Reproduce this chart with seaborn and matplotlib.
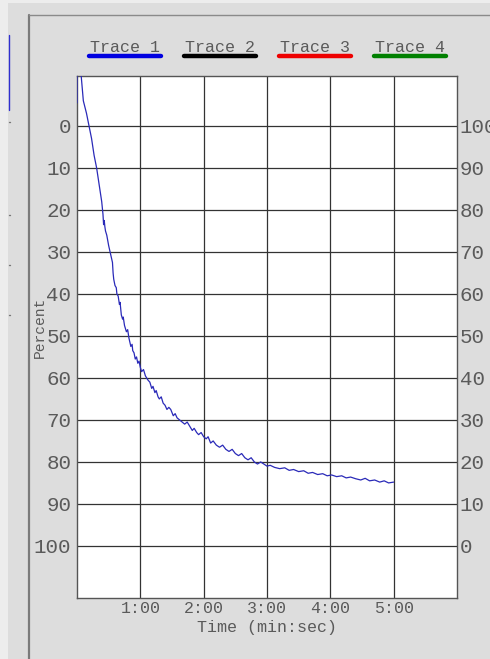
import matplotlib
matplotlib.use("Agg")
import matplotlib.pyplot as plt
from matplotlib.lines import Line2D
from matplotlib.patches import Rectangle
import seaborn as sns
import pandas as pd

# ---- data ----
time_min = [0.00, 0.00, 0.06, 0.10, 0.15, 0.19, 0.23, 0.27, 0.31, 0.35, 0.39, 0.41,
            0.42, 0.43, 0.44, 0.45, 0.47, 0.50, 0.53, 0.56, 0.57, 0.58, 0.60, 0.62,
            0.63, 0.65, 0.67, 0.68, 0.70, 0.72, 0.73, 0.75, 0.78, 0.80, 0.82, 0.85,
            0.87, 0.88, 0.90, 0.92, 0.94, 0.96, 0.98, 1.00, 1.02, 1.05, 1.08, 1.10,
            1.12, 1.15, 1.18, 1.20, 1.23, 1.25, 1.28, 1.30, 1.33, 1.36, 1.39, 1.42,
            1.45, 1.48, 1.52, 1.55, 1.58, 1.62, 1.66, 1.70, 1.74, 1.78, 1.82, 1.85,
            1.89, 1.92, 1.96, 2.00, 2.04, 2.07, 2.11, 2.15, 2.20, 2.25, 2.30, 2.35,
            2.40, 2.45, 2.50, 2.55, 2.60, 2.65, 2.70, 2.75, 2.80, 2.85, 2.90, 2.95,
            3.00, 3.05, 3.12, 3.20, 3.28, 3.35, 3.42, 3.50, 3.58, 3.65, 3.72, 3.80,
            3.88, 3.95, 4.02, 4.10, 4.18, 4.25, 4.32, 4.40, 4.48, 4.55, 4.62, 4.70,
            4.78, 4.85, 4.92, 5.00]
percent = [-5.5, -13.0, -13.0, -6.0, -3.0, 0.0, 3.0, 7.0, 10.0, 14.0, 18.0, 21.0,
           23.5, 22.5, 24.0, 25.0, 26.0, 28.5, 30.5, 32.5, 35.0, 36.5, 38.0, 38.5,
           40.0, 40.5, 42.5, 42.0, 45.0, 46.0, 45.5, 47.5, 49.0, 48.5, 50.5, 52.5,
           52.0, 53.5, 54.0, 55.5, 55.0, 56.5, 56.0, 57.5, 58.5, 58.0, 59.5, 60.0,
           60.5, 61.0, 62.5, 62.0, 63.5, 63.0, 64.5, 65.0, 64.5, 66.0, 66.5, 67.5,
           67.0, 67.5, 69.0, 68.5, 69.5, 70.0, 70.5, 71.0, 70.5, 71.5, 72.5, 72.0,
           73.0, 73.5, 73.0, 74.0, 74.5, 74.0, 75.5, 75.0, 76.0, 76.5, 76.0, 77.0,
           77.5, 77.0, 78.0, 78.5, 78.0, 79.0, 79.5, 79.0, 80.0, 80.5, 80.0, 80.5,
           81.0, 80.8, 81.3, 81.6, 81.4, 82.0, 81.8, 82.3, 82.1, 82.7, 82.5, 83.0,
           82.8, 83.3, 83.1, 83.5, 83.3, 83.8, 83.6, 84.0, 84.3, 83.9, 84.5, 84.3,
           84.8, 84.5, 85.0, 84.8]
trace_labels = ["Trace 1", "Trace 2", "Trace 3", "Trace 4"]
trace_colors = ["#0000e0", "#000000", "#ee0000", "#008000"]
x_ticks = [1, 2, 3, 4, 5]
x_tick_labels = ["1:00", "2:00", "3:00", "4:00", "5:00"]
y_ticks = [0, 10, 20, 30, 40, 50, 60, 70, 80, 90, 100]

df = pd.DataFrame({"Time": time_min, "Percent": percent})

sns.set_theme(style="white")
plt.rcParams["font.family"] = ["Liberation Mono", "DejaVu Sans Mono"]

W, H = 490, 659
fig = plt.figure(figsize=(W / 100, H / 100), dpi=100, facecolor="#dddddd")

# light strips at left/top edge
fig.add_artist(Rectangle((0, 0), 8 / W, 1, transform=fig.transFigure,
                         color="#ededed", lw=0, zorder=-5))
fig.add_artist(Rectangle((0, 1 - 3 / H), 1, 3 / H, transform=fig.transFigure,
                         color="#ededed", lw=0, zorder=-5))
# frame of the panel
fig.add_artist(Line2D([29 / W, 29 / W], [0, 1 - 15 / H], transform=fig.transFigure,
                      color="#7a7a7a", lw=1.6))
fig.add_artist(Line2D([29 / W, 1], [1 - 15 / H, 1 - 15 / H], transform=fig.transFigure,
                      color="#8a8a8a", lw=1.0))
# fragment of a neighbouring panel
fig.add_artist(Line2D([9 / W, 9 / W], [1 - 35 / H, 1 - 110 / H], transform=fig.transFigure,
                      color="#3030d0", lw=1.0))
for yy in [122, 215, 265, 315]:
    fig.add_artist(Line2D([8.5 / W, 9.5 / W], [1 - yy / H, 1 - yy / H],
                          transform=fig.transFigure, color="#777777", lw=1.0))

left, right, top, bottom = 77, 457, 76, 598
ax = fig.add_axes([left / W, 1 - bottom / H, (right - left) / W, (bottom - top) / H])
ax.set_facecolor("white")

sns.lineplot(data=df, x="Time", y="Percent", ax=ax, estimator=None, sort=False,
             color="#2a2ab8", lw=0.9, zorder=3)

ax.set_xlim(0, 6)
ax.set_ylim(112.4, -11.9)
ax.set_xticks(x_ticks)
ax.set_xticklabels(x_tick_labels)
ax.set_yticks(y_ticks)
ax.set_yticklabels([str(v) for v in y_ticks])
ax.grid(True, color="#333333", lw=0.9)
ax.tick_params(axis="y", length=0, pad=4, labelsize=15, labelcolor="#5a5a5a")
ax.tick_params(axis="x", length=0, pad=2, labelsize=12, labelcolor="#5a5a5a")
ax.set_xlabel("Time (min:sec)", fontsize=12, color="#5a5a5a", labelpad=3)
ax.set_ylabel("Percent", fontsize=10.5, color="#5a5a5a")
ax.yaxis.set_label_coords((40 - left) / (right - left), (bottom - 327) / (bottom - top))
ax.yaxis.label.set_verticalalignment("center")
for s in ax.spines.values():
    s.set_color("#555555")
    s.set_linewidth(1.0)
    s.set_visible(True)

ax2 = ax.twinx()
ax2.set_ylim(100 - 112.4, 100 + 11.9)
ax2.set_yticks(y_ticks)
ax2.set_yticklabels([str(v) for v in y_ticks])
ax2.tick_params(axis="y", length=0, pad=2, labelsize=15, labelcolor="#5a5a5a")
for s in ax2.spines.values():
    s.set_visible(False)

# legend header: text with a coloured bar beneath
centers = [125, 220, 315, 410]
for lab, col, cx in zip(trace_labels, trace_colors, centers):
    fig.text(cx / W, 1 - 47 / H, lab, ha="center", va="center", fontsize=12,
             color="#5a5a5a")
    fig.add_artist(Line2D([(cx - 36) / W, (cx + 36) / W], [1 - 56 / H, 1 - 56 / H],
                          transform=fig.transFigure, color=col, lw=3.2,
                          solid_capstyle="round"))

fig.savefig("out.png", dpi=100, facecolor=fig.get_facecolor())
